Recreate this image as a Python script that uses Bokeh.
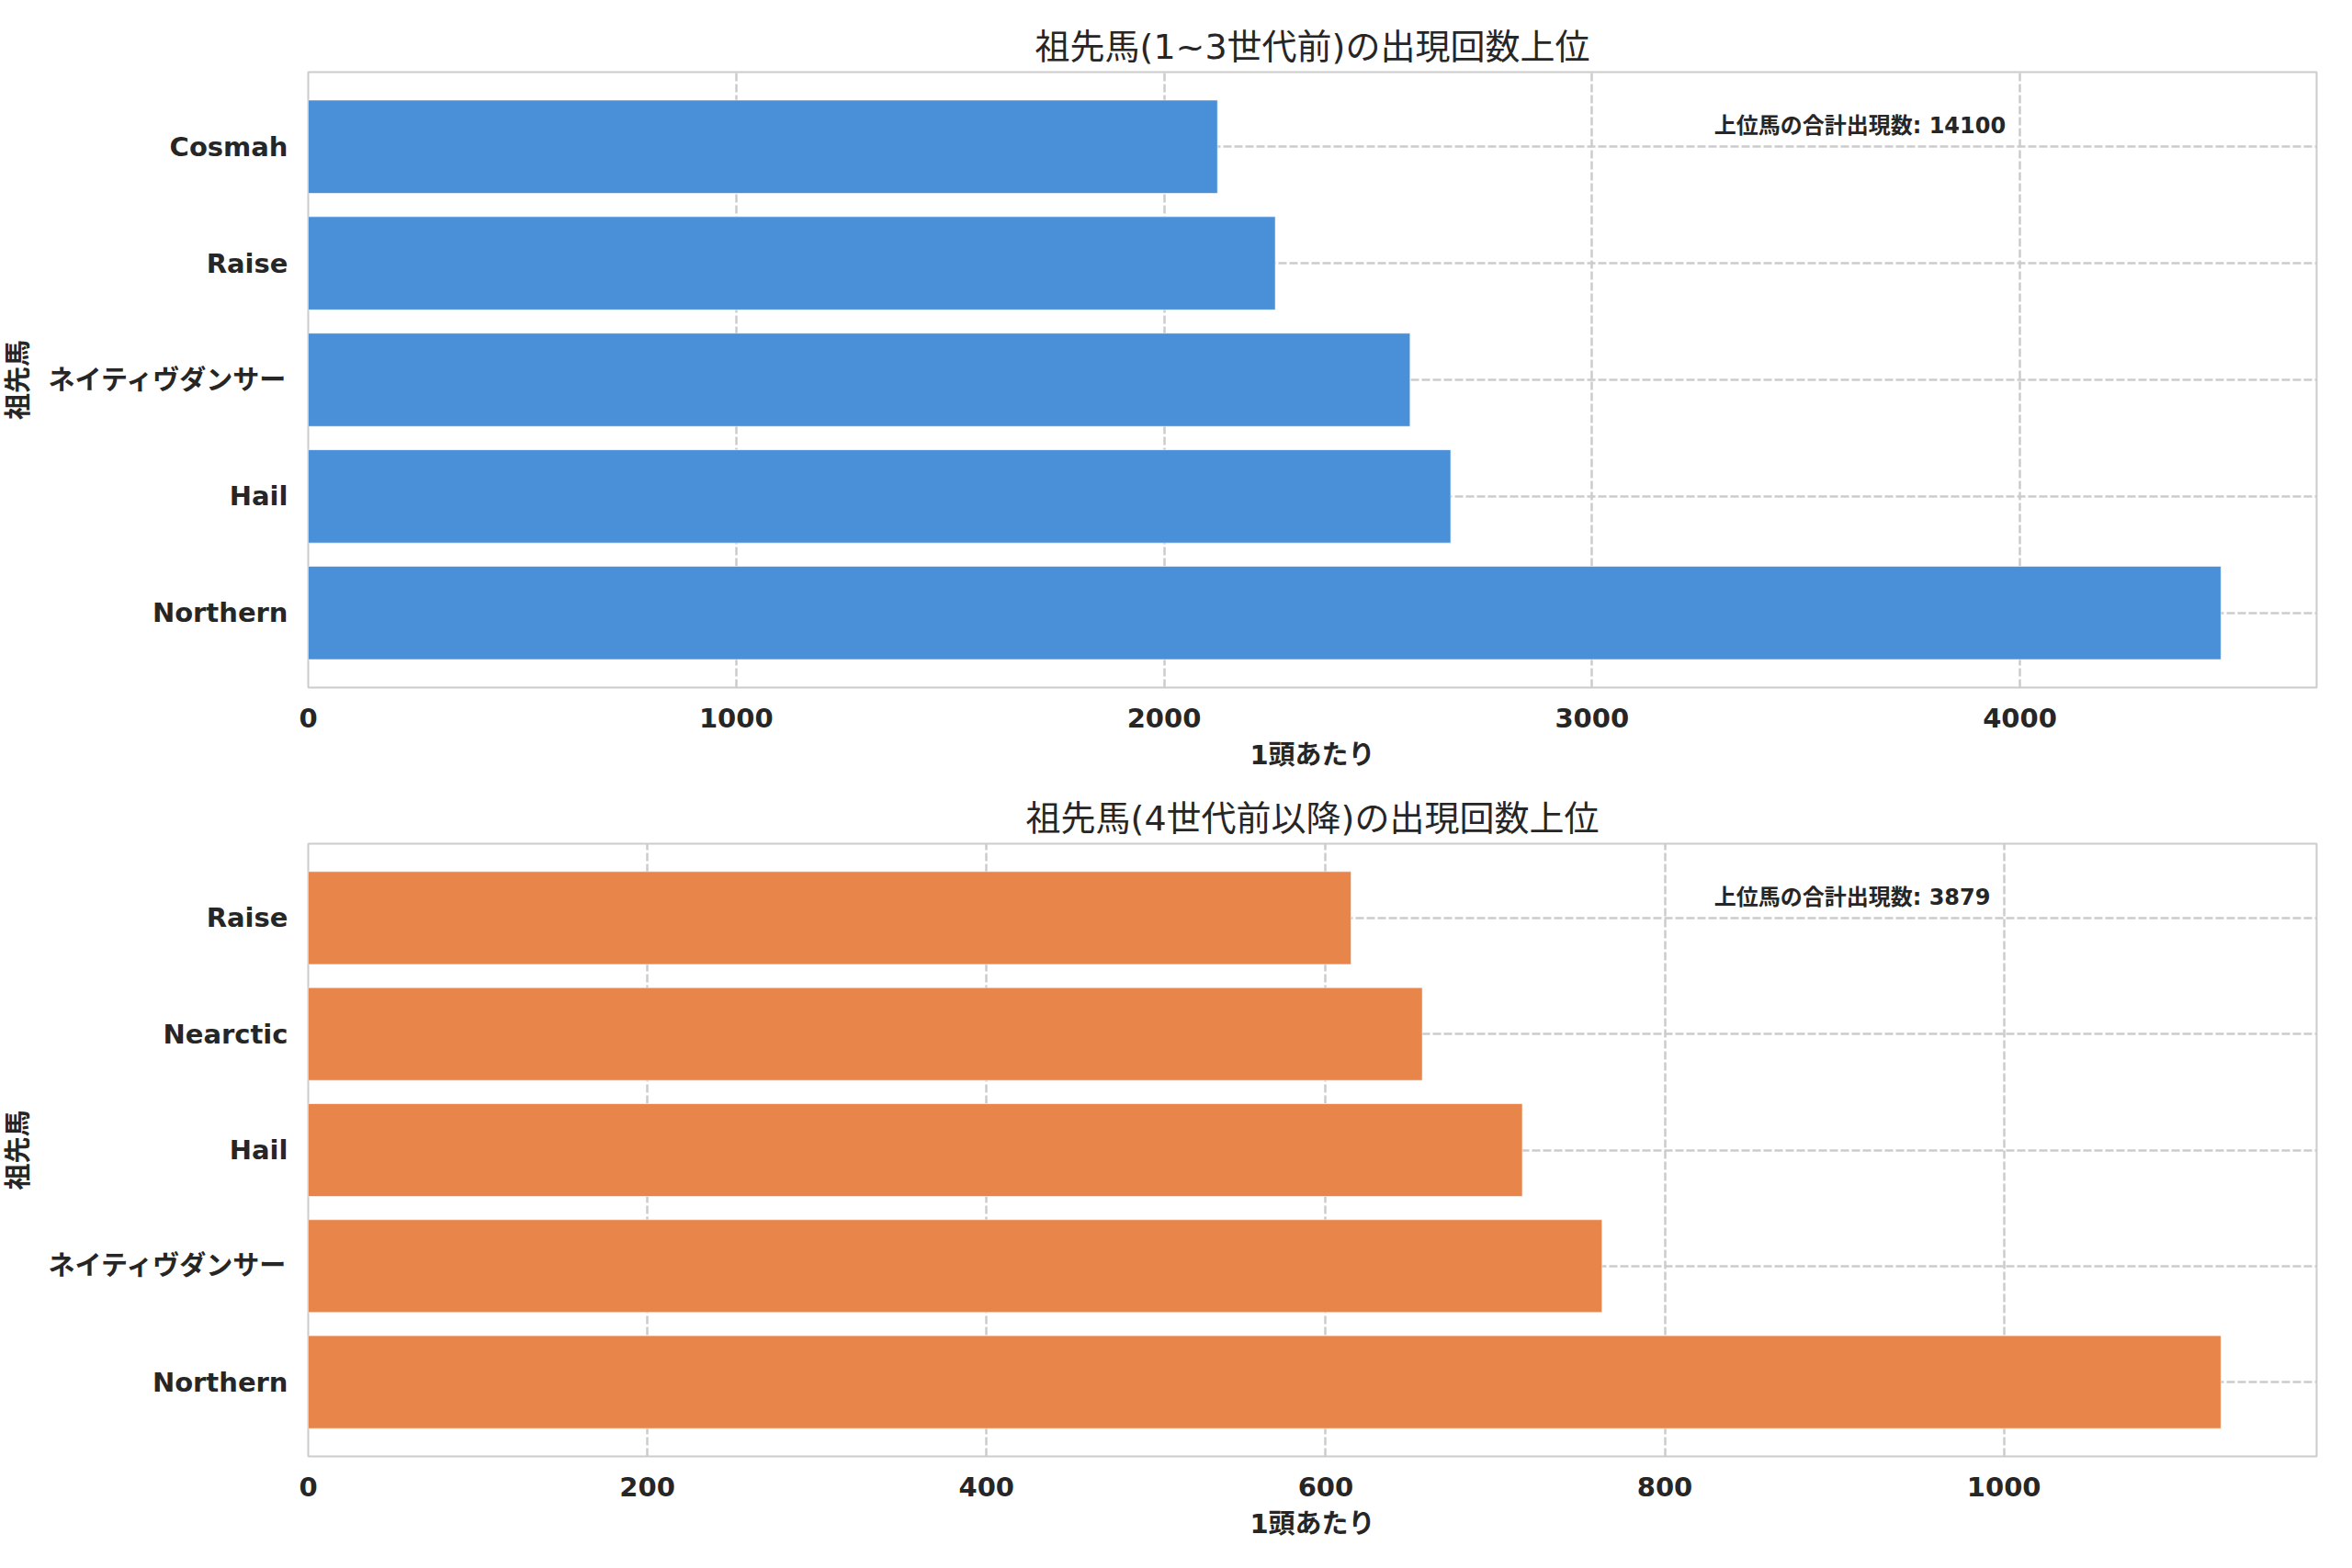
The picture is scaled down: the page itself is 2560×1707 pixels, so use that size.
from bokeh.plotting import figure
from bokeh.layouts import column
from bokeh.models import Range1d, FixedTicker, Label
from bokeh.embed import file_html
from bokeh.resources import INLINE

# ---- data (listed bottom -> top, as drawn) ----
names_top = ["Northern", "Hail", "ネイティヴダンサー", "Raise", "Cosmah"]
values_top = [4470, 2670, 2575, 2260, 2125]
ticks_top = [0, 1000, 2000, 3000, 4000]
title_top = "祖先馬(1~3世代前)の出現回数上位"

names_bot = ["Northern", "ネイティヴダンサー", "Hail", "Nearctic", "Raise"]
values_bot = [1128, 763, 716, 657, 615]
ticks_bot = [0, 200, 400, 600, 800, 1000]
title_bot = "祖先馬(4世代前以降)の出現回数上位"

x_label = "1頭あたり"
y_label = "祖先馬"
annot_prefix = "上位馬の合計出現数"

FONT = "DejaVu Sans, Noto Sans CJK JP"
TXT = "#262626"


def make(names, values, ticks, title, color, height, border_top, border_bottom):
    n = len(names)
    ys = list(range(n))
    y0, y1 = -0.4 - 0.05 * (n - 0.2), (n - 1) + 0.4 + 0.05 * (n - 0.2)
    xmax = max(values) * 1.05
    p = figure(width=2544, height=height, output_backend="svg", toolbar_location=None,
               x_range=Range1d(0, xmax), y_range=Range1d(y0, y1),
               min_border_top=border_top, min_border_bottom=border_bottom,
               min_border_right=23, min_border_left=10)
    p.hbar(y=ys, right=values, left=0, height=0.8, fill_color=color,
           line_color="white", line_width=1, line_alpha=0.6)

    p.title.text = title
    p.title.align = "center"
    p.title.text_font = FONT
    p.title.text_font_size = "38px"
    p.title.text_font_style = "normal"
    p.title.text_color = TXT
    p.title.standoff = 11

    p.xaxis.ticker = FixedTicker(ticks=ticks)
    p.yaxis.ticker = FixedTicker(ticks=ys)
    p.yaxis.major_label_overrides = {i: nm for i, nm in enumerate(names)}

    for ax in (p.xaxis[0], p.yaxis[0]):
        ax.axis_line_color = None
        ax.major_tick_line_color = None
        ax.minor_tick_line_color = None
        ax.major_label_text_font = FONT
        ax.major_label_text_font_size = "29px"
        ax.major_label_text_font_style = "bold"
        ax.major_label_text_color = TXT
        ax.axis_label_text_font = FONT
        ax.axis_label_text_font_size = "29px"
        ax.axis_label_text_font_style = "bold"
        ax.axis_label_text_color = TXT
    p.xaxis.major_label_standoff = 16
    p.yaxis.major_label_standoff = 16
    p.xaxis.axis_label = x_label
    p.yaxis.axis_label = y_label
    p.xaxis.axis_label_standoff = 10
    p.yaxis.axis_label_standoff = 12

    for g in (p.xgrid[0], p.ygrid[0]):
        g.grid_line_color = "#cccccc"
        g.grid_line_width = 2.5
        g.grid_line_dash = "9 3"

    p.outline_line_color = "#cccccc"
    p.outline_line_width = 2
    p.background_fill_color = "white"
    p.border_fill_color = "white"

    total = sum(values)
    lab = Label(x=0.7 * xmax, y=y1 - 0.067 * (y1 - y0),
                text=f"{annot_prefix}: {total}",
                text_font=FONT, text_font_size="24px", text_font_style="bold",
                text_color=TXT, text_baseline="top", text_align="left")
    p.add_layout(lab)
    return p


p1 = make(names_top, values_top, ticks_top, title_top, "#4a90d9", 858, 78, 110)
p2 = make(names_bot, values_bot, ticks_bot, title_bot, "#e8854b", 832, 60, 105)

layout = column(p1, p2, spacing=0)
open("out.html", "w").write(file_html(layout, INLINE))
